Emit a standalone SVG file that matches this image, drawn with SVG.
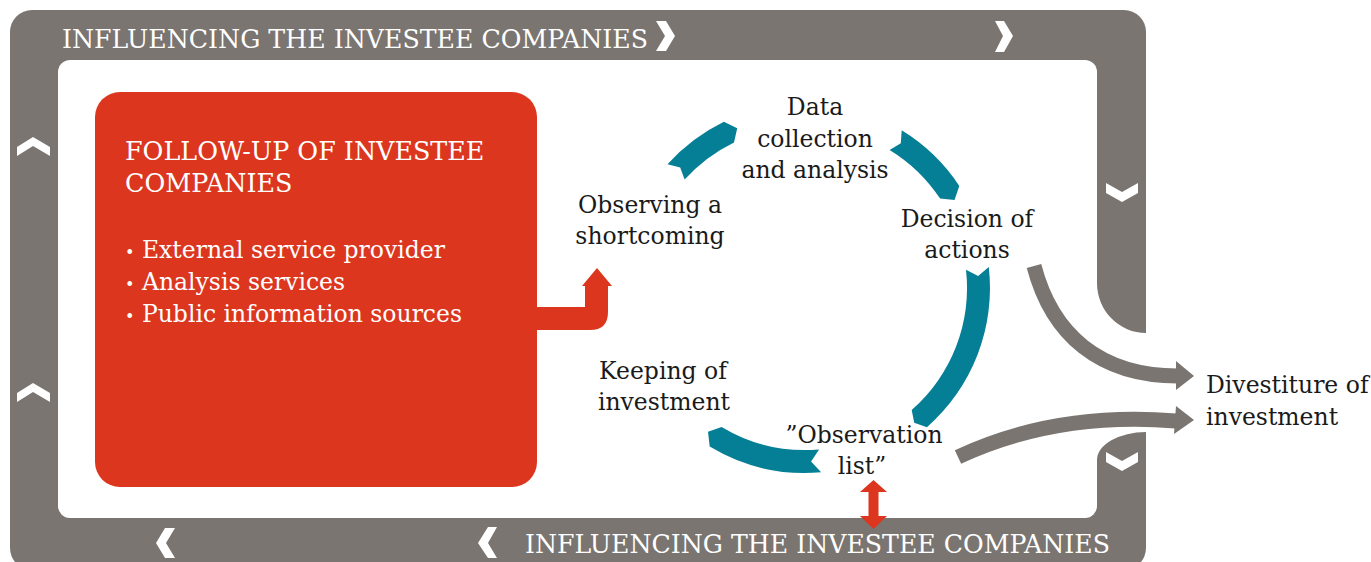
<svg xmlns="http://www.w3.org/2000/svg" width="1371" height="562" viewBox="0 0 1371 562">
<style>
.lbl{font-family:"DejaVu Serif",serif;font-size:23.5px;fill:#1a1a1a;text-anchor:middle}
.lbl-l{font-family:"DejaVu Serif",serif;font-size:23.5px;fill:#1a1a1a}
.ban{font-family:"DejaVu Serif",serif;font-size:26px;fill:#ffffff}
.box{font-family:"DejaVu Serif",serif;fill:#ffffff}
.bul{font-size:16px}
.chev{fill:#ffffff}
.teal{fill:#057f96}
.grey{fill:#7a7570}
.red{fill:#dc361e}
.garrow{fill:none;stroke:#7a7570;stroke-width:15}
</style>
<rect width="1371" height="562" fill="#ffffff"/>
<g id="frame">
<rect x="10" y="10" width="1136" height="560" rx="22" class="grey"/>
<rect x="58" y="60" width="1039" height="458" rx="12" fill="#ffffff"/>
<path d="M1097,283 A49,50 0 0 0 1146,333 H1371 V432 H1146 A49,28 0 0 0 1097,460 Z" fill="#ffffff"/>
<text x="62" y="48" class="ban" textLength="586" lengthAdjust="spacingAndGlyphs">INFLUENCING THE INVESTEE COMPANIES</text>
<text x="525" y="553" class="ban" textLength="585" lengthAdjust="spacingAndGlyphs">INFLUENCING THE INVESTEE COMPANIES</text>
<polygon class="chev" points="656,21 666,21 675,36 666,51 656,51 665,36"/>
<polygon class="chev" points="995,21 1004,21 1013,36 1004,52 995,52 1003,36"/>
<polygon class="chev" points="1106,183 1122,192 1138,183 1138,193 1122,202 1106,193"/>
<polygon class="chev" points="1106,452 1122,461 1138,452 1138,462 1122,471 1106,462"/>
<polygon class="chev" points="17,147 33,137 50,147 50,156 33,146 17,156"/>
<polygon class="chev" points="17,393 33,383 50,393 50,402 33,392 17,402"/>
<polygon class="chev" points="488,527 497,527 488,543 497,558 488,558 478,543"/>
<polygon class="chev" points="165,528 175,528 166,543 175,558 165,558 156,543"/>
</g>
<g id="follow-up">
<rect x="95" y="92" width="442" height="395" rx="25" class="red"/>
<text class="box" font-size="25.4" x="125" y="160">FOLLOW-UP OF INVESTEE</text>
<text class="box" font-size="25.4" x="125" y="192">COMPANIES</text>
<text class="box" font-size="23.5" x="125" y="258"><tspan class="bul">•</tspan> External service provider</text>
<text class="box" font-size="23.5" x="125" y="290"><tspan class="bul">•</tspan> Analysis services</text>
<text class="box" font-size="23.5" x="125" y="322"><tspan class="bul">•</tspan> Public information sources</text>
</g>
<g id="observing"><text class="lbl" x="650" y="213">Observing a</text><text class="lbl" x="650" y="244">shortcoming</text></g>
<g id="data"><text class="lbl" x="815" y="115">Data</text><text class="lbl" x="815" y="147">collection</text><text class="lbl" x="815" y="178">and analysis</text></g>
<g id="decision"><text class="lbl" x="967" y="227">Decision of</text><text class="lbl" x="967" y="258">actions</text></g>
<g id="observation-list"><text class="lbl" x="864" y="443">”Observation</text><text class="lbl" x="862" y="474">list”</text></g>
<g id="keeping"><text class="lbl" x="663" y="379">Keeping of</text><text class="lbl" x="664" y="410">investment</text></g>
<g id="divestiture"><text class="lbl-l" x="1206" y="393">Divestiture of</text><text class="lbl-l" x="1206" y="425">investment</text></g>
<g id="connectors">
<path class="teal" d="M667.5,164.2 A185,185 0 0 1 723.9,121.7 L737.2,128.3 L734.0,142.4 A162,162 0 0 0 684.6,179.6 L680.2,167.5 Z"/>
<path class="teal" d="M901.7,130.3 A185,185 0 0 1 959.3,185.9 L954.5,199.9 L940.1,198.6 A162,162 0 0 0 889.6,149.9 L900.8,143.3 Z"/>
<path class="teal" d="M988.8,267.1 A185,185 0 0 1 926.9,427.2 L914.2,422.8 L911.7,409.9 A162,162 0 0 0 966.0,269.7 L978.1,275.9 Z"/>
<path class="teal" d="M821.1,472.3 A185,185 0 0 1 709.7,446.6 L708.0,431.8 L721.6,426.9 A162,162 0 0 0 819.1,449.4 L811.1,461.4 Z"/>
<path class="garrow" d="M1034,266 C1052,335 1100,376 1178,376"/>
<polygon class="grey" points="1176,361 1194,376 1176,390"/>
<path class="garrow" d="M958,457 C1020,428 1090,414 1176,421"/>
<polygon class="grey" points="1176,406 1194,420 1174,434"/>
<path class="red" d="M530,307 H585 V285 H608 V312 Q608,330 590,330 H530 Z"/>
<polygon class="red" points="582,286 597,268 612,286"/>
<polygon class="red" points="873.5,480 887,492 878.5,492 878.5,516 887,516 873.5,529 860,516 868.5,516 868.5,492 860,492"/>
</g>
</svg>
